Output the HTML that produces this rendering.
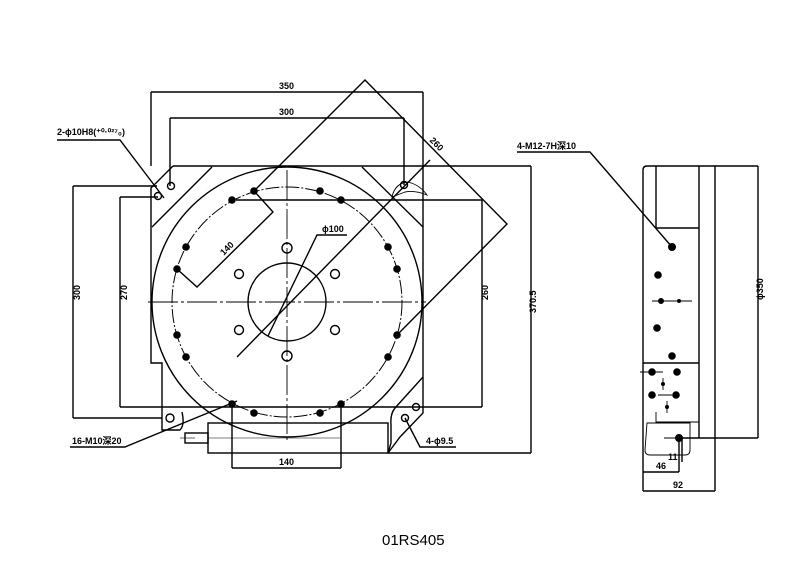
<!DOCTYPE html>
<html><head><meta charset="utf-8"><style>
html,body{margin:0;padding:0;background:#fff;}
svg{display:block}
.t{font-family:"Liberation Sans",sans-serif;font-weight:bold;font-size:9px;fill:#000}
</style></head><body>
<svg width="800" height="567" viewBox="0 0 800 567" xmlns="http://www.w3.org/2000/svg">
<g fill="none" stroke="#000" stroke-width="1.4">
<path d="M173,166 L423,166 L423,413 L400,437 L388,453"/>
<path d="M173,166 L151,188 L151,363 L162,363 L162,430 L180,430 Q185,425 182,412"/>
<path d="M212,167 L152,227"/>
<path d="M362,167 L423,227"/>
<path d="M423,377 L395,408 Q390,414 391,425 L391,443 L388,453"/>
<circle cx="287" cy="302" r="135"/>
<circle cx="287" cy="302" r="115" stroke-dasharray="14,2,2,2" stroke-width="1"/>
<circle cx="287" cy="302" r="39"/>
<path d="M148,302 L426,302" stroke-dasharray="30,3,3,3" stroke-width="0.9"/>
<path d="M287,170 L287,440" stroke-dasharray="30,3,3,3" stroke-width="0.9"/>
<rect x="208" y="423" width="180" height="30"/>
<path d="M208,438 L340,438" stroke-width="0.6"/>
<rect x="185" y="433" width="23" height="10"/>
<path d="M180,438 L195,438" stroke-width="0.6"/>
<path d="M151,92 L423,92 M151,92 L151,166 M423,92 L423,166"/>
<path d="M170,118 L404,118 M170,118 L170,186 M404,118 L404,185"/>
<path d="M120,197 L120,407 M120,197 L158,197 M120,407 L482,407"/>
<path d="M482,200 L482,407 M236,200 L482,200"/>
<path d="M73,186 L73,418 M73,186 L157,186 M73,418 L162,418"/>
<path d="M531,166 L531,453 M423,166 L531,166 M388,453 L531,453"/>
<path d="M232,404 L232,468 M341,404 L341,468 M232,468 L341,468"/>
<path d="M254,191 L365,80 L507,224 L397,335"/>
<path d="M254,191 L273,212 L197,287 L177,269"/>
<path d="M430,160 L237,357"/>
<path d="M268,336 L317,235 L347,235"/>
<path d="M392,197 Q395,183 408,182 Q420,185 427,195 Q415,190 405,192 Z" stroke-width="0.9"/>
<path d="M57,140 L120,140 L164,198"/>
<path d="M70,447 L125,447 L237,401"/>
<path d="M405,418 L420,447 L456,447"/>
<path d="M517,152 L590,152 L672,247"/>
<path d="M647,166 L715,166 L715,438 M643,170 Q643,166 647,166 M643,170 L643,491"/>
<path d="M656,166 L656,228 M656,228 L699,228 M699,166 L699,438"/>
<path d="M643,363 L699,363"/>
<path d="M656,412 L656,422 L699,422" stroke-width="0.9"/>
<path d="M647,423 L690,423 L690,450 Q690,455 685,455 L650,455 Q645,455 645,450 Z" stroke-width="0.9"/>
<path d="M715,166 L758,166 M680,438 L758,438 M758,166 L758,438"/>
<path d="M643,491 L715,491 M715,438 L715,491 M643,472 L679,472 M679,438 L679,472 M682,438 L682,462"/>
</g>
<g fill="#000" stroke="#000">
<circle cx="254" cy="191" r="3.3"/><circle cx="232" cy="200" r="3.3"/><circle cx="186" cy="247" r="3.3"/><circle cx="177" cy="269" r="3.3"/>
<circle cx="177" cy="335" r="3.3"/><circle cx="186" cy="357" r="3.3"/><circle cx="232" cy="404" r="3.3"/><circle cx="254" cy="413" r="3.3"/>
<circle cx="320" cy="413" r="3.3"/><circle cx="341" cy="404" r="3.3"/><circle cx="388" cy="357" r="3.3"/><circle cx="397" cy="335" r="3.3"/>
<circle cx="397" cy="269" r="3.3"/><circle cx="388" cy="247" r="3.3"/><circle cx="341" cy="200" r="3.3"/><circle cx="320" cy="191" r="3.3"/>
<circle cx="672" cy="247" r="3.5"/><circle cx="658" cy="275" r="3.3"/><circle cx="661" cy="301" r="2.5"/><circle cx="679" cy="301" r="1.5"/>
<circle cx="657" cy="328" r="3.3"/><circle cx="672" cy="356" r="3.3"/><circle cx="652" cy="372" r="3.3"/><circle cx="677" cy="372" r="3.3"/>
<circle cx="652" cy="395" r="3.3"/><circle cx="676" cy="395" r="3.3"/><circle cx="663" cy="384" r="1.5"/><circle cx="667" cy="407" r="1.5"/>
<circle cx="679" cy="438" r="3.5"/>
</g>
<g fill="none" stroke="#000" stroke-width="1.4">
<circle cx="287" cy="248" r="5"/><circle cx="287" cy="356" r="5"/>
<circle cx="239" cy="274" r="4.5"/><circle cx="335" cy="274" r="4.5"/><circle cx="239" cy="330" r="4.5"/><circle cx="335" cy="330" r="4.5"/>
<circle cx="171" cy="186" r="3.5"/><circle cx="158" cy="196" r="3.5"/>
<circle cx="170" cy="418" r="4"/><circle cx="416" cy="407" r="3.5"/><circle cx="405" cy="418" r="3.5"/>
<circle cx="404" cy="185" r="3.5"/>
<path d="M652,301 L692,301 M640,372 L663,372 M658,395 L672,395 M663,378 L663,390 M667,401 L667,413 M664,438 L697,438" stroke-width="0.9"/>
</g>
<g class="t">
<text x="279" y="89">350</text>
<text x="279" y="115">300</text>
<text x="57" y="135">2-ϕ10H8(⁺⁰·⁰²⁷₀)</text>
<text x="425" y="145" transform="rotate(45 432 148)">260</text>
<text x="322" y="232">ϕ100</text>
<text x="218" y="250" transform="rotate(-45 228 246)">140</text>
<text x="72" y="312" transform="rotate(-90 70 302)">300</text>
<text x="119" y="312" transform="rotate(-90 117 302)">270</text>
<text x="480" y="312" transform="rotate(-90 478 302)">260</text>
<text x="528" y="325" transform="rotate(-90 526 315)">370.5</text>
<text x="72" y="444">16-M10深20</text>
<text x="426" y="444">4-ϕ9.5</text>
<text x="279" y="465">140</text>
<text x="517" y="149">4-M12-7H深10</text>
<text x="755" y="312" transform="rotate(-90 753 302)">ϕ350</text>
<text x="656" y="469">46</text>
<text x="668" y="460">11</text>
<text x="673" y="488">92</text>
</g>
<text x="382" y="545" font-family="Liberation Sans, sans-serif" font-size="15">01RS405</text>
</svg>
</body></html>
